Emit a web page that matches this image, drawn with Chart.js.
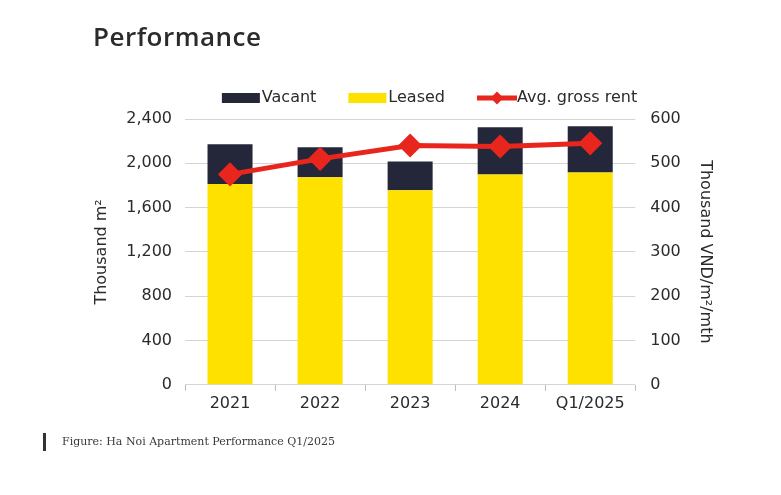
<!DOCTYPE html>
<html>
<head>
<meta charset="utf-8">
<script src="https://cdn.jsdelivr.net/npm/chart.js@4.4.1/dist/chart.umd.min.js"></script>
<style>
    body { margin: 0; background: #fff; }
    #wrap { position: absolute; left: 0; top: 0; width: 781px; height: 495px; }
    #title {
        position: absolute; left: 93px; top: 18px;
        font-family: "Open Sans", sans-serif; font-weight: 600; font-size: 26px; letter-spacing: 0.5px; color: #2b2b2b;
    }
    #caption {
        position: absolute; left: 43px; top: 433px; height: 18px;
        border-left: 3px solid #333; padding-left: 16px;
        font-family: "DejaVu Serif", serif; font-size: 11px; line-height: 18px; color: #3a3a3a;
    }
</style>
</head>
<body>
<div id="wrap"><canvas id="myChart"></canvas></div>
<div id="title">Performance</div>
<div id="caption">Figure: Ha Noi Apartment Performance Q1/2025</div>
<script>
    var years = ['2021', '2022', '2023', '2024', 'Q1/2025'];
    var leased = [1814, 1875, 1757, 1899, 1917];
    var vacant = [357, 271, 260, 426, 417];
    var grossRent = [475, 510, 540, 538, 545];

    var leftTicks = [0, 400, 800, 1200, 1600, 2000, 2400];
    var rightTicks = [0, 100, 200, 300, 400, 500, 600];

    var red = '#e8261d';
    var navy = '#24273a';
    var yellow = '#ffe100';
    var fontFamily = '"DejaVu Sans", sans-serif';

    // legend icons: canvas wider than the legend box so the gap to the text stays small
    function legendIcon(kind, color) {
        var c = document.createElement('canvas');
        c.width = 48;
        c.height = 18;
        var g = c.getContext('2d');
        g.fillStyle = color;
        if (kind === 'box') {
            g.fillRect(8, 4, 38, 10);
        } else {
            g.fillRect(8, 6.5, 40, 5);
            g.beginPath();
            g.moveTo(28, 2.5);
            g.lineTo(34.5, 9);
            g.lineTo(28, 15.5);
            g.lineTo(21.5, 9);
            g.closePath();
            g.fill();
        }
        return c;
    }

    var icons = {
        'Vacant': legendIcon('box', navy),
        'Leased': legendIcon('box', yellow),
        'Avg. gross rent': legendIcon('line', red)
    };
    var legendOrder = ['Vacant', 'Leased', 'Avg. gross rent'];

    var shiftLegend = {
        id: 'shiftLegend',
        afterLayout: function(chart) {
            chart.legend.left += 27;
            chart.legend.right += 27;
            chart.legend.top -= 3;
            chart.legend.bottom -= 3;
        }
    };

    var ctx = document.getElementById('myChart').getContext('2d');
    var chart = new Chart(ctx, {
        data: {
            labels: years,
            datasets: [{
                type: 'line',
                label: 'Avg. gross rent',
                data: grossRent,
                yAxisID: 'y1',
                borderColor: red,
                backgroundColor: red,
                borderWidth: 5,
                pointStyle: 'rectRot',
                pointRadius: 8.5,
                pointBackgroundColor: red,
                pointBorderColor: red,
                order: 0
            }, {
                type: 'bar',
                label: 'Leased',
                data: leased,
                backgroundColor: yellow,
                yAxisID: 'y',
                categoryPercentage: 1,
                barPercentage: 0.5,
                order: 1
            }, {
                type: 'bar',
                label: 'Vacant',
                data: vacant,
                backgroundColor: navy,
                yAxisID: 'y',
                categoryPercentage: 1,
                barPercentage: 0.5,
                order: 1
            }]
        },
        plugins: [shiftLegend],
        options: {
            responsive: true,
            maintainAspectRatio: false,
            animation: false,
            layout: { padding: { left: 90, right: 66, top: 61, bottom: 79 } },
            plugins: {
                tooltip: { enabled: false },
                legend: {
                    position: 'top',
                    labels: {
                        color: '#2b2b2b',
                        font: { family: fontFamily, size: 16 },
                        usePointStyle: true,
                        pointStyleWidth: 32,
                        padding: 32,
                        generateLabels: function(chart) {
                            var items = Chart.defaults.plugins.legend.labels.generateLabels(chart);
                            items.forEach(function(it) { it.pointStyle = icons[it.text]; });
                            return items;
                        },
                        sort: function(a, b) {
                            return legendOrder.indexOf(a.text) - legendOrder.indexOf(b.text);
                        }
                    }
                }
            },
            scales: {
                x: {
                    stacked: true,
                    grid: { drawOnChartArea: false, drawTicks: true, offset: true, tickLength: 6, color: '#bbbbbb' },
                    border: { display: false },
                    ticks: { color: '#2b2b2b', font: { family: fontFamily, size: 16 }, padding: 3 }
                },
                y: {
                    stacked: true,
                    position: 'left',
                    min: 0,
                    max: 2400,
                    afterBuildTicks: function(axis) { axis.ticks = leftTicks.map(function(v) { return { value: v }; }); },
                    grid: { color: '#d4d4d4', drawTicks: false },
                    border: { display: false },
                    ticks: {
                        color: '#2b2b2b', font: { family: fontFamily, size: 16 }, padding: 13,
                        callback: function(v) { return v.toLocaleString('en-US'); }
                    },
                    title: { display: true, text: 'Thousand m²', color: '#2b2b2b', font: { family: fontFamily, size: 16 }, padding: 2 }
                },
                y1: {
                    position: 'right',
                    min: 0,
                    max: 600,
                    afterBuildTicks: function(axis) { axis.ticks = rightTicks.map(function(v) { return { value: v }; }); },
                    grid: { drawOnChartArea: false, drawTicks: false },
                    border: { display: false },
                    ticks: { color: '#2b2b2b', font: { family: fontFamily, size: 16 }, padding: 15 },
                    title: { display: true, text: 'Thousand VND/m²/mth', color: '#2b2b2b', font: { family: fontFamily, size: 16 }, padding: 0 }
                }
            }
        }
    });
</script>
</body>
</html>
